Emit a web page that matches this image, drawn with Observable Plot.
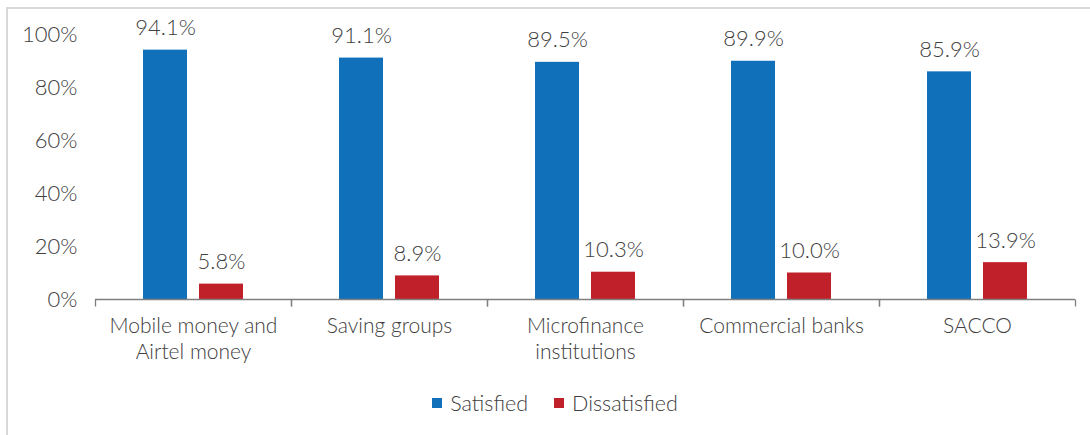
<!DOCTYPE html>
<html>
<head>
<meta charset="utf-8">
<script src="https://cdn.jsdelivr.net/npm/d3@7"></script>
<script src="https://cdn.jsdelivr.net/npm/@observablehq/plot@0.6"></script>
<style>
  html, body { margin: 0; padding: 0; background: #fff; }
  body { width: 1090px; height: 435px; position: relative; overflow: hidden; font-family: Lato, "Open Sans", sans-serif; }
  #border { position: absolute; left: 6px; top: 7px; right: 0; bottom: 0; border-left: 2px solid #d9d9d9; border-top: 2px solid #d9d9d9; pointer-events: none; }
  #chart { position: absolute; left: 0; top: 0; }
  #legend { position: absolute; left: 0; top: 390px; width: 1110px; display: flex; justify-content: center; gap: 26px; font-size: 21.5px; font-weight: 300; color: #404040; }
  #legend span.item { display: flex; align-items: center; }
  #legend span.sw { display: inline-block; width: 10px; height: 10px; margin-right: 8px; }
</style>
</head>
<body>
<div id="border"></div>
<div id="chart"></div>
<div id="legend"></div>
<script>
const categories = ["Mobile money and\nAirtel money", "Saving groups", "Microfinance\ninstitutions", "Commercial banks", "SACCO"];
const seriesNames = ["Satisfied", "Dissatisfied"];
const satisfied = [94.1, 91.1, 89.5, 89.9, 85.9];
const dissatisfied = [5.8, 8.9, 10.3, 10.0, 13.9];
const colors = ["#1170BA", "#C0202A"];
const yTicks = [0, 20, 40, 60, 80, 100];

const rows = [];
categories.forEach((c, i) => {
  rows.push({category: c, series: seriesNames[0], value: satisfied[i]});
  rows.push({category: c, series: seriesNames[1], value: dissatisfied[i]});
});

const tickSymbol = {draw(ctx) { ctx.moveTo(0, 0); ctx.lineTo(0, 7); }};
const edges = categories.map(c => ({category: c}));

const textColor = "#404040";
const chart = Plot.plot({
  width: 1090,
  height: 370,
  marginLeft: 95,
  marginRight: 15,
  marginTop: 34,
  marginBottom: 71,
  style: {fontFamily: "Lato, 'Open Sans', sans-serif", fontSize: "21px", fontWeight: 300, color: textColor, background: "transparent"},
  fx: {domain: categories, padding: 0, label: null},
  x: {domain: seriesNames, paddingInner: 0.214, paddingOuter: 0.857, axis: null},
  y: {domain: [0, 100], label: null},
  color: {domain: seriesNames, range: colors},
  marks: [
    Plot.axisY({ticks: yTicks, tickSize: 0, tickPadding: 18, tickFormat: d => d + "%", fontSize: 22, fill: textColor, label: null}),
    Plot.axisFx({tickSize: 0, tickPadding: 16, lineHeight: 1.2, fontSize: 21, fill: textColor, label: null, anchor: "bottom"}),
    Plot.barY(rows, {fx: "category", x: "series", y: "value", fill: "series"}),
    Plot.ruleY([0], {stroke: "#7f7f7f", strokeWidth: 1.3}),
    Plot.dot(edges, {fx: "category", frameAnchor: "bottom-left", symbol: tickSymbol, stroke: "#7f7f7f", strokeWidth: 1.3, r: 3}),
    Plot.dot(edges, {fx: "category", frameAnchor: "bottom-right", symbol: tickSymbol, stroke: "#7f7f7f", strokeWidth: 1.3, r: 3}),
    Plot.text(rows, {fx: "category", x: "series", y: "value", text: d => d.value.toFixed(1) + "%", dy: -22, lineAnchor: "middle", fill: textColor, fontSize: 22})
  ]
});
document.getElementById("chart").appendChild(chart);

const legend = document.getElementById("legend");
seriesNames.forEach((s, i) => {
  const item = document.createElement("span");
  item.className = "item";
  const sw = document.createElement("span");
  sw.className = "sw";
  sw.style.background = colors[i];
  item.appendChild(sw);
  item.appendChild(document.createTextNode(s));
  legend.appendChild(item);
});
</script>
</body>
</html>
